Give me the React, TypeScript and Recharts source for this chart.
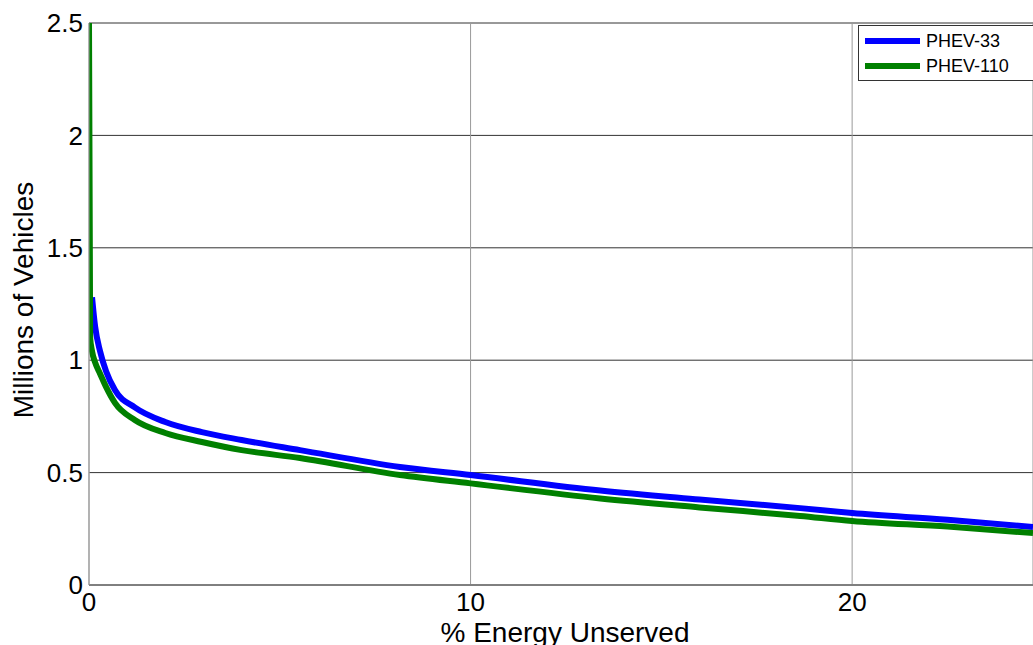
import React from 'react';
import { LineChart, Line, XAxis, YAxis, CartesianGrid, Legend, Label } from 'recharts';

const xValues = [0, 0.03, 0.08, 0.16, 0.29, 0.45, 0.68, 1.2, 2.0, 2.96, 4.0, 5.53, 8.15, 10, 13.4, 16, 18.64, 20, 22.5, 24.74];
const phev33 = [null, null, 1.28, 1.15, 1.04, 0.95, 0.867, 0.79, 0.725, 0.68, 0.645, 0.6, 0.525, 0.489, 0.42, 0.38, 0.342, 0.32, 0.29, 0.258];
const phev110 = [2.5, 1.1, 1.04, 0.99, 0.94, 0.88, 0.81, 0.734, 0.676, 0.636, 0.6, 0.565, 0.489, 0.452, 0.385, 0.345, 0.307, 0.285, 0.26, 0.231];
const xTicks = [0, 10, 20];
const yTicks = [0, 0.5, 1, 1.5, 2, 2.5];
const seriesNames = ['PHEV-33', 'PHEV-110'];
const seriesColors = ['#0000ff', '#008000'];

const rows = xValues.map((x, i) => ({ x, a: phev33[i], b: phev110[i] }));

const FONT = '"Liberation Sans", Arial, sans-serif';

const LegendBox = () => (
  <div
    style={{
      position: 'absolute',
      left: 858,
      top: 25,
      width: 180,
      height: 56,
      background: '#fff',
      borderTop: '1px solid #333',
      borderLeft: '1px solid #333',
      borderBottom: '1px solid #333',
      boxSizing: 'border-box',
      fontFamily: FONT,
      fontSize: 18,
      color: '#000',
    }}
  >
    {seriesNames.map((n, i) => (
      <div key={n} style={{ position: 'absolute', left: 6, top: i === 0 ? 5 : 30, height: 20, display: 'flex', alignItems: 'center' }}>
        <div style={{ width: 55, height: 6, background: seriesColors[i], marginRight: 6 }} />
        <span>{n}</span>
      </div>
    ))}
  </div>
);

const YTitle = (props: any) => {
  const vb = props.viewBox || { x: 0, y: 23, width: 89, height: 562 };
  const cx = 33;
  const cy = vb.y + vb.height / 2 - 4;
  return (
    <text
      x={cx}
      y={cy}
      transform={`rotate(-90, ${cx}, ${cy})`}
      textAnchor="middle"
      fontFamily={FONT}
      fontSize={28}
      fill="#000"
    >
      Millions of Vehicles
    </text>
  );
};

export default function App() {
  return (
    <div style={{ position: 'fixed', left: 0, top: 0, width: 1033, height: 645, background: '#fff' }}>
      <LineChart width={1033} height={645} data={rows} margin={{ top: 23, right: 0, left: 0, bottom: 0 }}>
        <CartesianGrid horizontal={true} vertical={false} stroke="#333" strokeWidth={1} />
        <CartesianGrid horizontal={false} vertical={true} stroke="#999" strokeWidth={1} />
        <XAxis
          type="number"
          dataKey="x"
          domain={[0, 24.74]}
          ticks={xTicks}
          allowDataOverflow
          height={60}
          tickLine={false}
          tickSize={4}
          tickMargin={4}
          stroke="#666"
          tick={{ fill: '#000', fontSize: 26, fontFamily: FONT }}
        >
          <Label value="% Energy Unserved" position="insideBottom" offset={3} dx={4} fill="#000" fontSize={28} fontFamily={FONT} />
        </XAxis>
        <YAxis
          type="number"
          domain={[0, 2.5]}
          ticks={yTicks}
          width={89}
          tickLine={false}
          tickSize={4}
          tickMargin={2}
          stroke="#999"
          tick={{ fill: '#000', fontSize: 26, fontFamily: FONT }}
        >
          <Label content={<YTitle />} />
        </YAxis>
        <Legend content={<LegendBox />} wrapperStyle={{ position: 'absolute', left: 0, top: 0, width: 0, height: 0 }} />
        <Line type="monotone" dataKey="a" name={seriesNames[0]} stroke={seriesColors[0]} strokeWidth={6} dot={false} isAnimationActive={false} />
        <Line type="monotone" dataKey="b" name={seriesNames[1]} stroke={seriesColors[1]} strokeWidth={6} dot={false} isAnimationActive={false} />
      </LineChart>
    </div>
  );
}
